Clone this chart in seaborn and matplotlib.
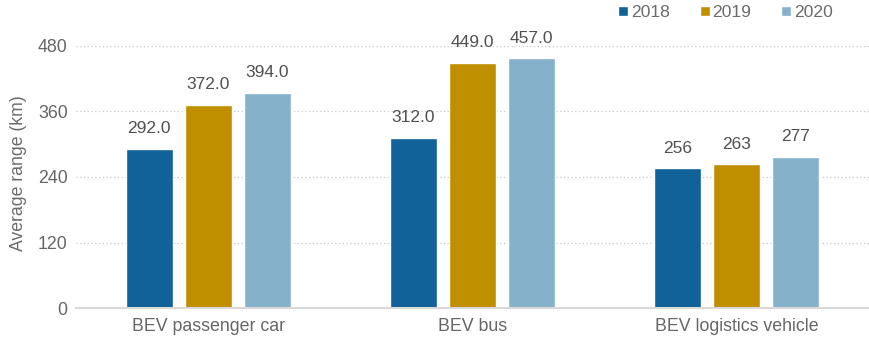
import matplotlib
matplotlib.use("Agg")
import matplotlib.pyplot as plt
import seaborn as sns
import pandas as pd

categories = ["BEV passenger car", "BEV bus", "BEV logistics vehicle"]
years = ["2018", "2019", "2020"]
range_2018 = [292.0, 312.0, 256]
range_2019 = [372.0, 449.0, 263]
range_2020 = [394.0, 457.0, 277]
value_labels = [
    ["292.0", "312.0", "256"],
    ["372.0", "449.0", "263"],
    ["394.0", "457.0", "277"],
]
y_ticks = [0, 120, 240, 360, 480]
colors = ["#106299", "#BF8F00", "#85B1CB"]

rows = []
for year, vals in zip(years, [range_2018, range_2019, range_2020]):
    for cat, v in zip(categories, vals):
        rows.append({"category": cat, "year": year, "range": v})
df = pd.DataFrame(rows)

sns.set_theme(style="white")
plt.rcParams["font.family"] = ["Liberation Sans", "DejaVu Sans"]

fig = plt.figure(figsize=(8.69, 3.40), dpi=100)
ax = fig.add_axes([0.0875, 0.094, 0.9125, 0.771])

sns.barplot(data=df, x="category", y="range", hue="year", order=categories,
            hue_order=years, palette=colors, width=0.67, gap=0.2,
            saturation=1, errorbar=None, ax=ax, legend=True)

for container, labels in zip(ax.containers, value_labels):
    ax.bar_label(container, labels=labels, padding=9, fontsize=12.5,
                 color="#505050")

ax.set_ylim(0, 480)
ax.set_xlim(-0.5, 2.5)
ax.set_yticks(y_ticks)
ax.set_yticklabels([str(t) for t in y_ticks])
ax.set_xlabel("")
ax.set_ylabel("Average range (km)", fontsize=12.7, color="#6b6b6b")
ax.yaxis.set_label_coords(-0.062, 0.515)
ax.tick_params(axis="both", labelsize=12.8, colors="#666666", length=0)
ax.tick_params(axis="x", pad=7)
ax.tick_params(axis="y", pad=6)
ax.yaxis.grid(True, linestyle=(0, (1, 2)), color="#c8c8c8", linewidth=0.9)
ax.set_axisbelow(True)
for side in ["top", "right", "left"]:
    ax.spines[side].set_visible(False)
ax.spines["bottom"].set_color("#d9d9d9")
ax.spines["bottom"].set_linewidth(1.5)

handles, labels = ax.get_legend_handles_labels()
ax.get_legend().remove()
fig.legend(handles, labels, loc="upper right", bbox_to_anchor=(0.9586, 0.985),
           ncol=3, frameon=False, fontsize=12.6, labelcolor="#6b6b6b",
           handlelength=0.57, handleheight=0.57, handletextpad=0.17,
           columnspacing=1.7, borderpad=0, borderaxespad=0)

fig.savefig("out.png", dpi=100)
